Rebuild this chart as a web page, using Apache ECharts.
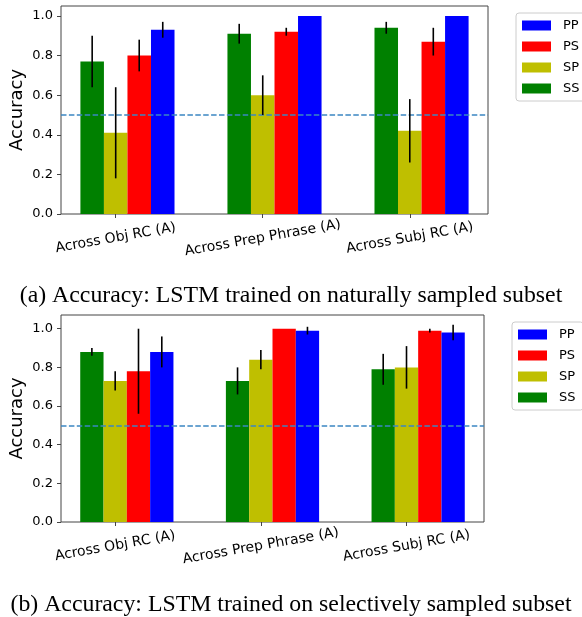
<!DOCTYPE html>
<html>
<head>
<meta charset="utf-8">
<script src="https://cdn.jsdelivr.net/npm/echarts@6/dist/echarts.min.js"></script>
<style>
html,body{margin:0;padding:0;background:#fff;}
#chart{width:582px;height:617px;}
</style>
</head>
<body>
<div id="chart"></div>
<script>
// ---- data ----
const categories = ['Across Obj RC (A)', 'Across Prep Phrase (A)', 'Across Subj RC (A)'];
const seriesNames = ['SS', 'SP', 'PS', 'PP'];
const legendOrder = ['PP', 'PS', 'SP', 'SS'];
const yTicks = [0, 0.2, 0.4, 0.6, 0.8, 1.0];

// (a) naturally sampled subset
const naturalSS = [0.77, 0.91, 0.94];
const naturalSP = [0.41, 0.60, 0.42];
const naturalPS = [0.80, 0.92, 0.87];
const naturalPP = [0.93, 1.00, 1.00];
const naturalSSerr = [0.13, 0.05, 0.03];
const naturalSPerr = [0.23, 0.10, 0.16];
const naturalPSerr = [0.08, 0.02, 0.07];
const naturalPPerr = [0.04, 0.00, 0.00];

// (b) selectively sampled subset
const selectiveSS = [0.88, 0.73, 0.79];
const selectiveSP = [0.73, 0.84, 0.80];
const selectivePS = [0.78, 1.00, 0.99];
const selectivePP = [0.88, 0.99, 0.98];
const selectiveSSerr = [0.02, 0.07, 0.08];
const selectiveSPerr = [0.05, 0.05, 0.11];
const selectivePSerr = [0.22, 0.00, 0.01];
const selectivePPerr = [0.08, 0.02, 0.04];

const captions = [
  '(a) Accuracy: LSTM trained on naturally sampled subset',
  '(b) Accuracy: LSTM trained on selectively sampled subset'
];
const chanceLevel = 0.5;

// ---- styling / layout ----
const colors = { SS: '#008000', SP: '#bfbf00', PS: '#ff0000', PP: '#0000ff' };
const offsets = { SS: -1, SP: 0, PS: 1, PP: 2 };
const W = 0.16; // bar width in data units
const xMin = -0.372, xMax = 2.532;
const panels = [
  { vals: [naturalSS, naturalSP, naturalPS, naturalPP],
    errs: [naturalSSerr, naturalSPerr, naturalPSerr, naturalPPerr],
    grid: { left: 61, top: 6, width: 427, height: 208 }, yMax: 1.05,
    legend: { left: 516, top: 13 }, captionTop: 284 },
  { vals: [selectiveSS, selectiveSP, selectivePS, selectivePP],
    errs: [selectiveSSerr, selectiveSPerr, selectivePSerr, selectivePPerr],
    grid: { left: 61, top: 315, width: 423, height: 207 }, yMax: 1.071,
    legend: { left: 512, top: 322 }, captionTop: 593 }
];

const font = 'DejaVu Sans';
const axisColor = '#444';
const grids = [], xAxes = [], yAxes = [], series = [], legends = [], titles = [];

panels.forEach((p, pi) => {
  grids.push(Object.assign({ show: true, borderColor: axisColor, borderWidth: 1,
    containLabel: false, outerBoundsMode: 'none' }, p.grid));
  xAxes.push({
    type: 'value', gridIndex: pi, min: xMin, max: xMax, position: 'bottom',
    splitLine: { show: false },
    axisLine: { show: false, onZero: false },
    axisTick: { show: true, customValues: [0, 1, 2], length: 4, lineStyle: { color: axisColor } },
    axisLabel: {
      customValues: [0, 1, 2],
      formatter: v => categories[Math.round(v)],
      rotate: 10, align: 'center', verticalAlign: 'middle', margin: 24,
      fontFamily: font, fontSize: 14, color: '#000'
    }
  });
  yAxes.push({
    type: 'value', gridIndex: pi, min: 0, max: p.yMax, position: 'left',
    splitLine: { show: false },
    axisLine: { show: false, onZero: false },
    name: 'Accuracy', nameLocation: 'middle', nameGap: 35, nameRotate: 90,
    nameMoveOverlap: false,
    nameTextStyle: { fontFamily: font, fontSize: 18, color: '#000' },
    axisTick: { show: true, customValues: yTicks, length: 4, lineStyle: { color: axisColor } },
    axisLabel: {
      customValues: yTicks,
      formatter: v => v.toFixed(1),
      margin: 8, fontFamily: font, fontSize: 13, color: '#000'
    }
  });
  const errData = [];
  seriesNames.forEach((name, si) => {
    const vals = p.vals[si], errs = p.errs[si];
    const s = {
      name: name, type: 'bar', xAxisIndex: pi, yAxisIndex: pi,
      barWidth: p.grid.width * W / (xMax - xMin), barGap: '-100%',
      itemStyle: { color: colors[name] },
      data: vals.map((v, j) => [j + offsets[name] * W, v])
    };
    if (si === 0) {
      s.markLine = {
        silent: true, symbol: 'none', label: { show: false },
        lineStyle: { color: '#3b87c2', type: [5.5, 2.4], width: 1.5 },
        data: [{ yAxis: chanceLevel }]
      };
    }
    series.push(s);
    vals.forEach((v, j) => {
      if (errs[j] > 0) errData.push([j + offsets[name] * W, v - errs[j], v + errs[j]]);
    });
  });
  series.push({
    type: 'custom', xAxisIndex: pi, yAxisIndex: pi, z: 10, silent: true,
    encode: { x: 0, y: [1, 2] },
    data: errData,
    renderItem: (params, api) => {
      const a = api.coord([api.value(0), api.value(1)]);
      const b = api.coord([api.value(0), api.value(2)]);
      return { type: 'line', shape: { x1: a[0], y1: a[1], x2: b[0], y2: b[1] },
               style: { stroke: '#000', lineWidth: 1.6 } };
    }
  });
  legends.push({
    data: legendOrder, orient: 'vertical', left: p.legend.left, top: p.legend.top,
    itemWidth: 29, itemHeight: 10, itemGap: 8, icon: 'rect',
    padding: [6, 8, 6, 6], borderColor: '#cccccc', borderWidth: 1, borderRadius: 3,
    backgroundColor: '#fff',
    textStyle: { fontFamily: font, fontSize: 13, color: '#000', padding: [0, 0, 0, 7] },
    selectedMode: false
  });
  titles.push({
    text: captions[pi], left: 'center', top: p.captionTop, padding: 0,
    textStyle: { fontFamily: 'Liberation Serif', fontSize: 23.8, fontWeight: 'normal', color: '#000' }
  });
});

const chart = echarts.init(document.getElementById('chart'), null, { renderer: 'canvas' });
chart.setOption({
  animation: false,
  backgroundColor: '#fff',
  title: titles,
  grid: grids,
  xAxis: xAxes,
  yAxis: yAxes,
  legend: legends,
  series: series
});
</script>
</body>
</html>
